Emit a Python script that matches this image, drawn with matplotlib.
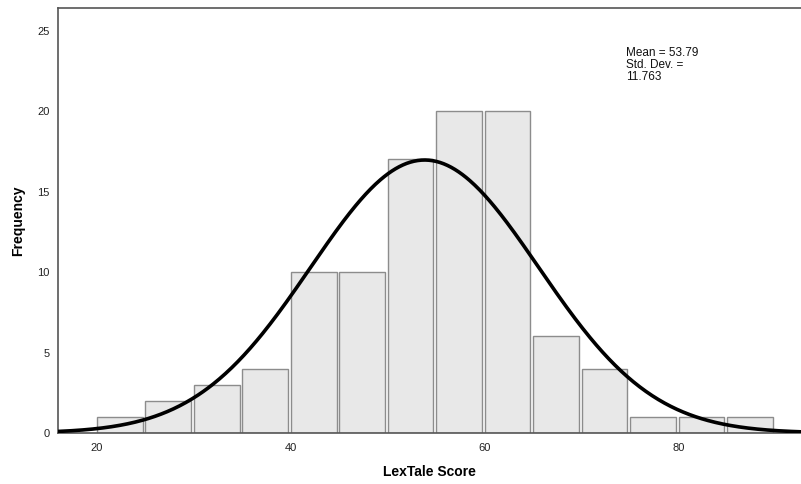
import numpy as np
import matplotlib
matplotlib.use("Agg")
import matplotlib.pyplot as plt

# LexTale score histogram (bin width 5) with fitted normal curve
bin_starts = [20, 25, 30, 35, 40, 45, 50, 55, 60, 65, 70, 75, 80, 85]
frequencies = [1, 2, 3, 4, 10, 10, 17, 20, 20, 6, 4, 1, 1, 1]
mean_score = 53.79
std_dev = 11.763
bin_width = 5
x_ticks = [20, 40, 60, 80]
y_ticks = [0, 5, 10, 15, 20, 25]

plt.rcParams["font.family"] = ["Liberation Sans", "DejaVu Sans"]

fig = plt.figure(figsize=(8.01, 4.84), dpi=100)
ax = fig.add_axes([58 / 801, 1 - 433 / 484, 1 - 58 / 801, (433 - 8) / 484])

ax.bar(bin_starts, frequencies, width=bin_width - 0.3, align="edge",
       color="#e8e8e8", edgecolor="#8c8c8c", linewidth=1.0, zorder=2)

xmin, xmax = 15.98, 92.6
xs = np.linspace(xmin, xmax, 600)
n = sum(frequencies)
pdf = np.exp(-0.5 * ((xs - mean_score) / std_dev) ** 2) / (std_dev * np.sqrt(2 * np.pi))
ax.plot(xs, n * bin_width * pdf, color="black", linewidth=2.6, zorder=3,
        solid_capstyle="butt")

ax.set_xlim(xmin, xmax)
ax.set_ylim(0, 26.4)
ax.set_xticks(x_ticks)
ax.set_yticks(y_ticks)
ax.tick_params(length=0, labelsize=8, colors="#222222", pad=6)
ax.tick_params(axis="x", pad=7)

ax.spines["right"].set_visible(False)
for side in ("left", "top", "bottom"):
    ax.spines[side].set_color("#555555")
    ax.spines[side].set_linewidth(1.2)

ax.set_xlabel("LexTale Score", fontsize=10, fontweight="bold", labelpad=9)
ax.set_ylabel("Frequency", fontsize=10, fontweight="bold", labelpad=9)

ax.text(626 / 801, 1 - 47 / 484,
        f"Mean = {mean_score:.2f}\nStd. Dev. =\n{std_dev:.3f}",
        transform=fig.transFigure, fontsize=8.5, va="top", ha="left",
        linespacing=1.0, color="#111111")

fig.savefig("out.png", dpi=100)
